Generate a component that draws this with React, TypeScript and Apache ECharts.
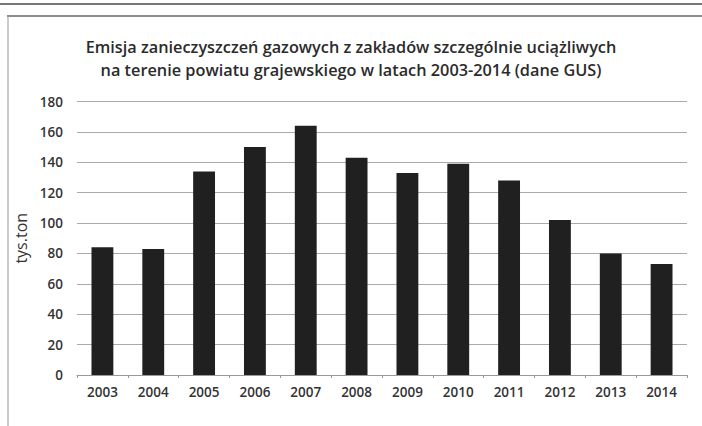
import React, { useEffect, useRef } from "react";
import * as echarts from "echarts";

const titleLines = [
  "Emisja zanieczyszczeń gazowych z zakładów szczególnie uciążliwych",
  "na terenie powiatu grajewskiego w latach 2003-2014 (dane GUS)",
];
const years = ["2003", "2004", "2005", "2006", "2007", "2008", "2009", "2010", "2011", "2012", "2013", "2014"];
const emissions = [84, 83, 134, 150, 164, 143, 133, 139, 128, 102, 80, 73];
const yAxisName = "tys.ton";

export default function App() {
  const ref = useRef<HTMLDivElement>(null);
  useEffect(() => {
    document.body.style.margin = "0";
    const chart = echarts.init(ref.current!, null, { renderer: "svg" });
    chart.setOption({
      animation: false,
      backgroundColor: "#ffffff",
      title: {
        text: titleLines.join("\n"),
        left: "center",
        top: 30,
        textStyle: {
          fontFamily: "Open Sans",
          fontWeight: 600,
          fontSize: 16.3,
          lineHeight: 23,
          color: "#2b2b2b",
        },
      },
      graphic: [
        { type: "line", shape: { x1: 0, y1: 4, x2: 702, y2: 4 }, style: { stroke: "#777", lineWidth: 2 } },
        { type: "line", shape: { x1: 7, y1: 16, x2: 702, y2: 16 }, style: { stroke: "#666", lineWidth: 1.5 } },
        { type: "line", shape: { x1: 8, y1: 16, x2: 8, y2: 426 }, style: { stroke: "#999", lineWidth: 1 } },
      ],
      grid: { left: 77, right: 15, top: 101.5, bottom: 51, containLabel: false },
      xAxis: {
        type: "category",
        data: years,
        axisLine: { show: true, lineStyle: { color: "#999", width: 1 } },
        axisTick: { show: true, length: 3, lineStyle: { color: "#999" } },
        axisLabel: {
          margin: 10,
          fontFamily: "Open Sans",
          fontWeight: 600,
          fontSize: 13.5,
          color: "#333",
        },
      },
      yAxis: {
        type: "value",
        min: 0,
        max: 180,
        interval: 20,
        name: yAxisName,
        nameLocation: "middle",
        nameGap: 47,
        nameRotate: 90,
        nameTextStyle: { fontFamily: "Open Sans", fontSize: 16, color: "#333" },
        axisLine: { show: false },
        axisTick: { show: false },
        axisLabel: {
          margin: 14,
          fontFamily: "Open Sans",
          fontWeight: 600,
          fontSize: 13.5,
          color: "#333",
        },
        splitLine: { show: true, lineStyle: { color: "#aaa", width: 1 } },
      },
      series: [
        {
          type: "bar",
          data: emissions,
          barWidth: "43%",
          itemStyle: { color: "#202020" },
        },
      ],
    });
    return () => chart.dispose();
  }, []);
  return <div ref={ref} style={{ width: 702, height: 426 }} />;
}
